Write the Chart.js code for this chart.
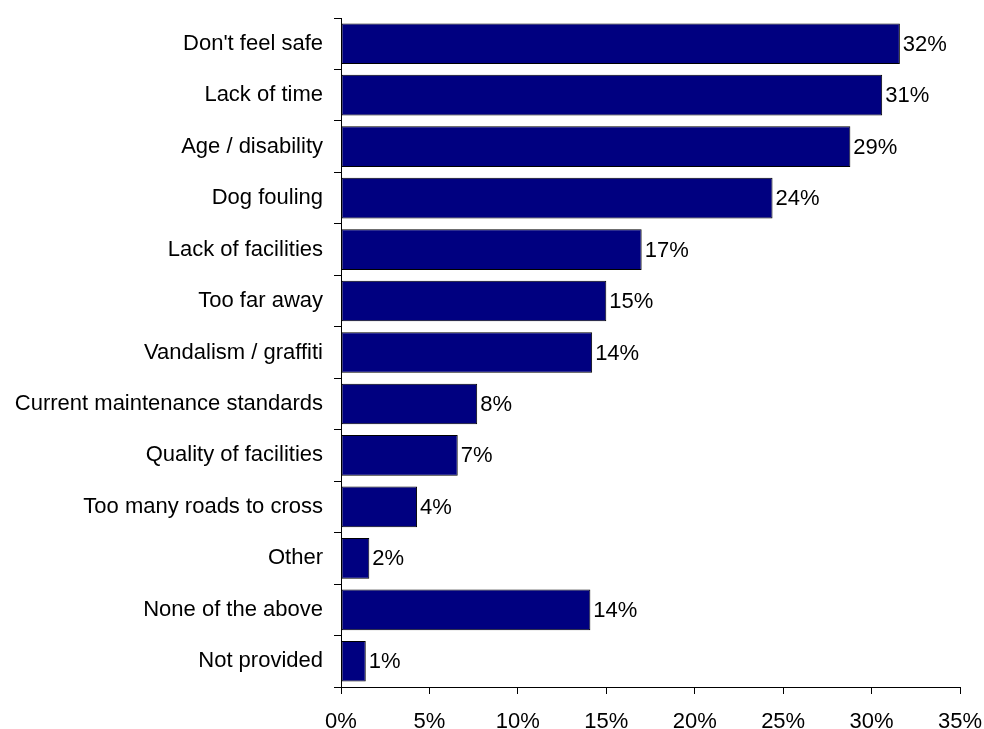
<!DOCTYPE html>
<html>
<head>
<meta charset="utf-8">
<script src="https://cdn.jsdelivr.net/npm/chart.js@4.4.1/dist/chart.umd.min.js"></script>
<style>
  html, body { margin: 0; padding: 0; background: #ffffff; }
  #wrap { width: 984px; height: 729px; position: relative; }
</style>
</head>
<body>
<div id="wrap"><canvas id="chart" width="984" height="729"></canvas></div>
<script>
// Reasons given for not using parks and open spaces (share of respondents, %)
const categories = [
  "Don't feel safe",
  "Lack of time",
  "Age / disability",
  "Dog fouling",
  "Lack of facilities",
  "Too far away",
  "Vandalism / graffiti",
  "Current maintenance standards",
  "Quality of facilities",
  "Too many roads to cross",
  "Other",
  "None of the above",
  "Not provided"
];
const shares = [31.6, 30.6, 28.8, 24.4, 17.0, 15.0, 14.2, 7.7, 6.6, 4.3, 1.6, 14.1, 1.4];
const xTickValues = [0, 5, 10, 15, 20, 25, 30, 35];

const FONT = "'Liberation Sans', Arial, sans-serif";

// Writes the rounded percentage just past the end of each bar
const valueLabels = {
  id: 'valueLabels',
  afterDatasetsDraw(chart) {
    const ctx = chart.ctx;
    const meta = chart.getDatasetMeta(0);
    ctx.save();
    ctx.font = '22px ' + FONT;
    ctx.fillStyle = '#000000';
    ctx.textAlign = 'left';
    ctx.textBaseline = 'middle';
    meta.data.forEach((bar, i) => {
      const v = chart.data.datasets[0].data[i];
      ctx.fillText(Math.round(v) + '%', bar.x + 3, bar.y + 1);
    });
    ctx.restore();
  }
};

new Chart(document.getElementById('chart'), {
  type: 'bar',
  data: {
    labels: categories,
    datasets: [{
      data: shares,
      backgroundColor: '#000080',
      borderColor: '#000000',
      borderWidth: 1,
      borderSkipped: false,
      barPercentage: 0.79,
      categoryPercentage: 1.0
    }]
  },
  options: {
    indexAxis: 'y',
    responsive: false,
    animation: false,
    layout: { padding: { top: 18, right: 24, left: 0, bottom: 0 } },
    plugins: {
      legend: { display: false },
      tooltip: { enabled: false }
    },
    scales: {
      x: {
        type: 'linear',
        min: 0,
        max: 35,
        afterBuildTicks(scale) {
          scale.ticks = xTickValues.map(v => ({ value: v }));
        },
        afterFit(scale) {
          scale.height = 42;
          scale.paddingLeft = 0;
          scale.paddingRight = 0;
        },
        border: { display: true, color: '#000000', width: 1 },
        grid: {
          drawOnChartArea: false,
          drawTicks: true,
          tickLength: 7,
          color: '#000000'
        },
        ticks: {
          padding: 15,
          color: '#000000',
          font: { family: FONT, size: 22 },
          callback: v => v + '%'
        }
      },
      y: {
        type: 'category',
        afterFit(scale) {
          scale.width = 341;
          scale.paddingTop = 0;
          scale.paddingBottom = 0;
        },
        border: { display: true, color: '#000000', width: 1 },
        grid: {
          offset: true,
          drawOnChartArea: false,
          drawTicks: true,
          tickLength: 7,
          color: '#000000'
        },
        ticks: {
          padding: 11,
          color: '#000000',
          font: { family: FONT, size: 22 }
        }
      }
    }
  },
  plugins: [valueLabels]
});
</script>
</body>
</html>
